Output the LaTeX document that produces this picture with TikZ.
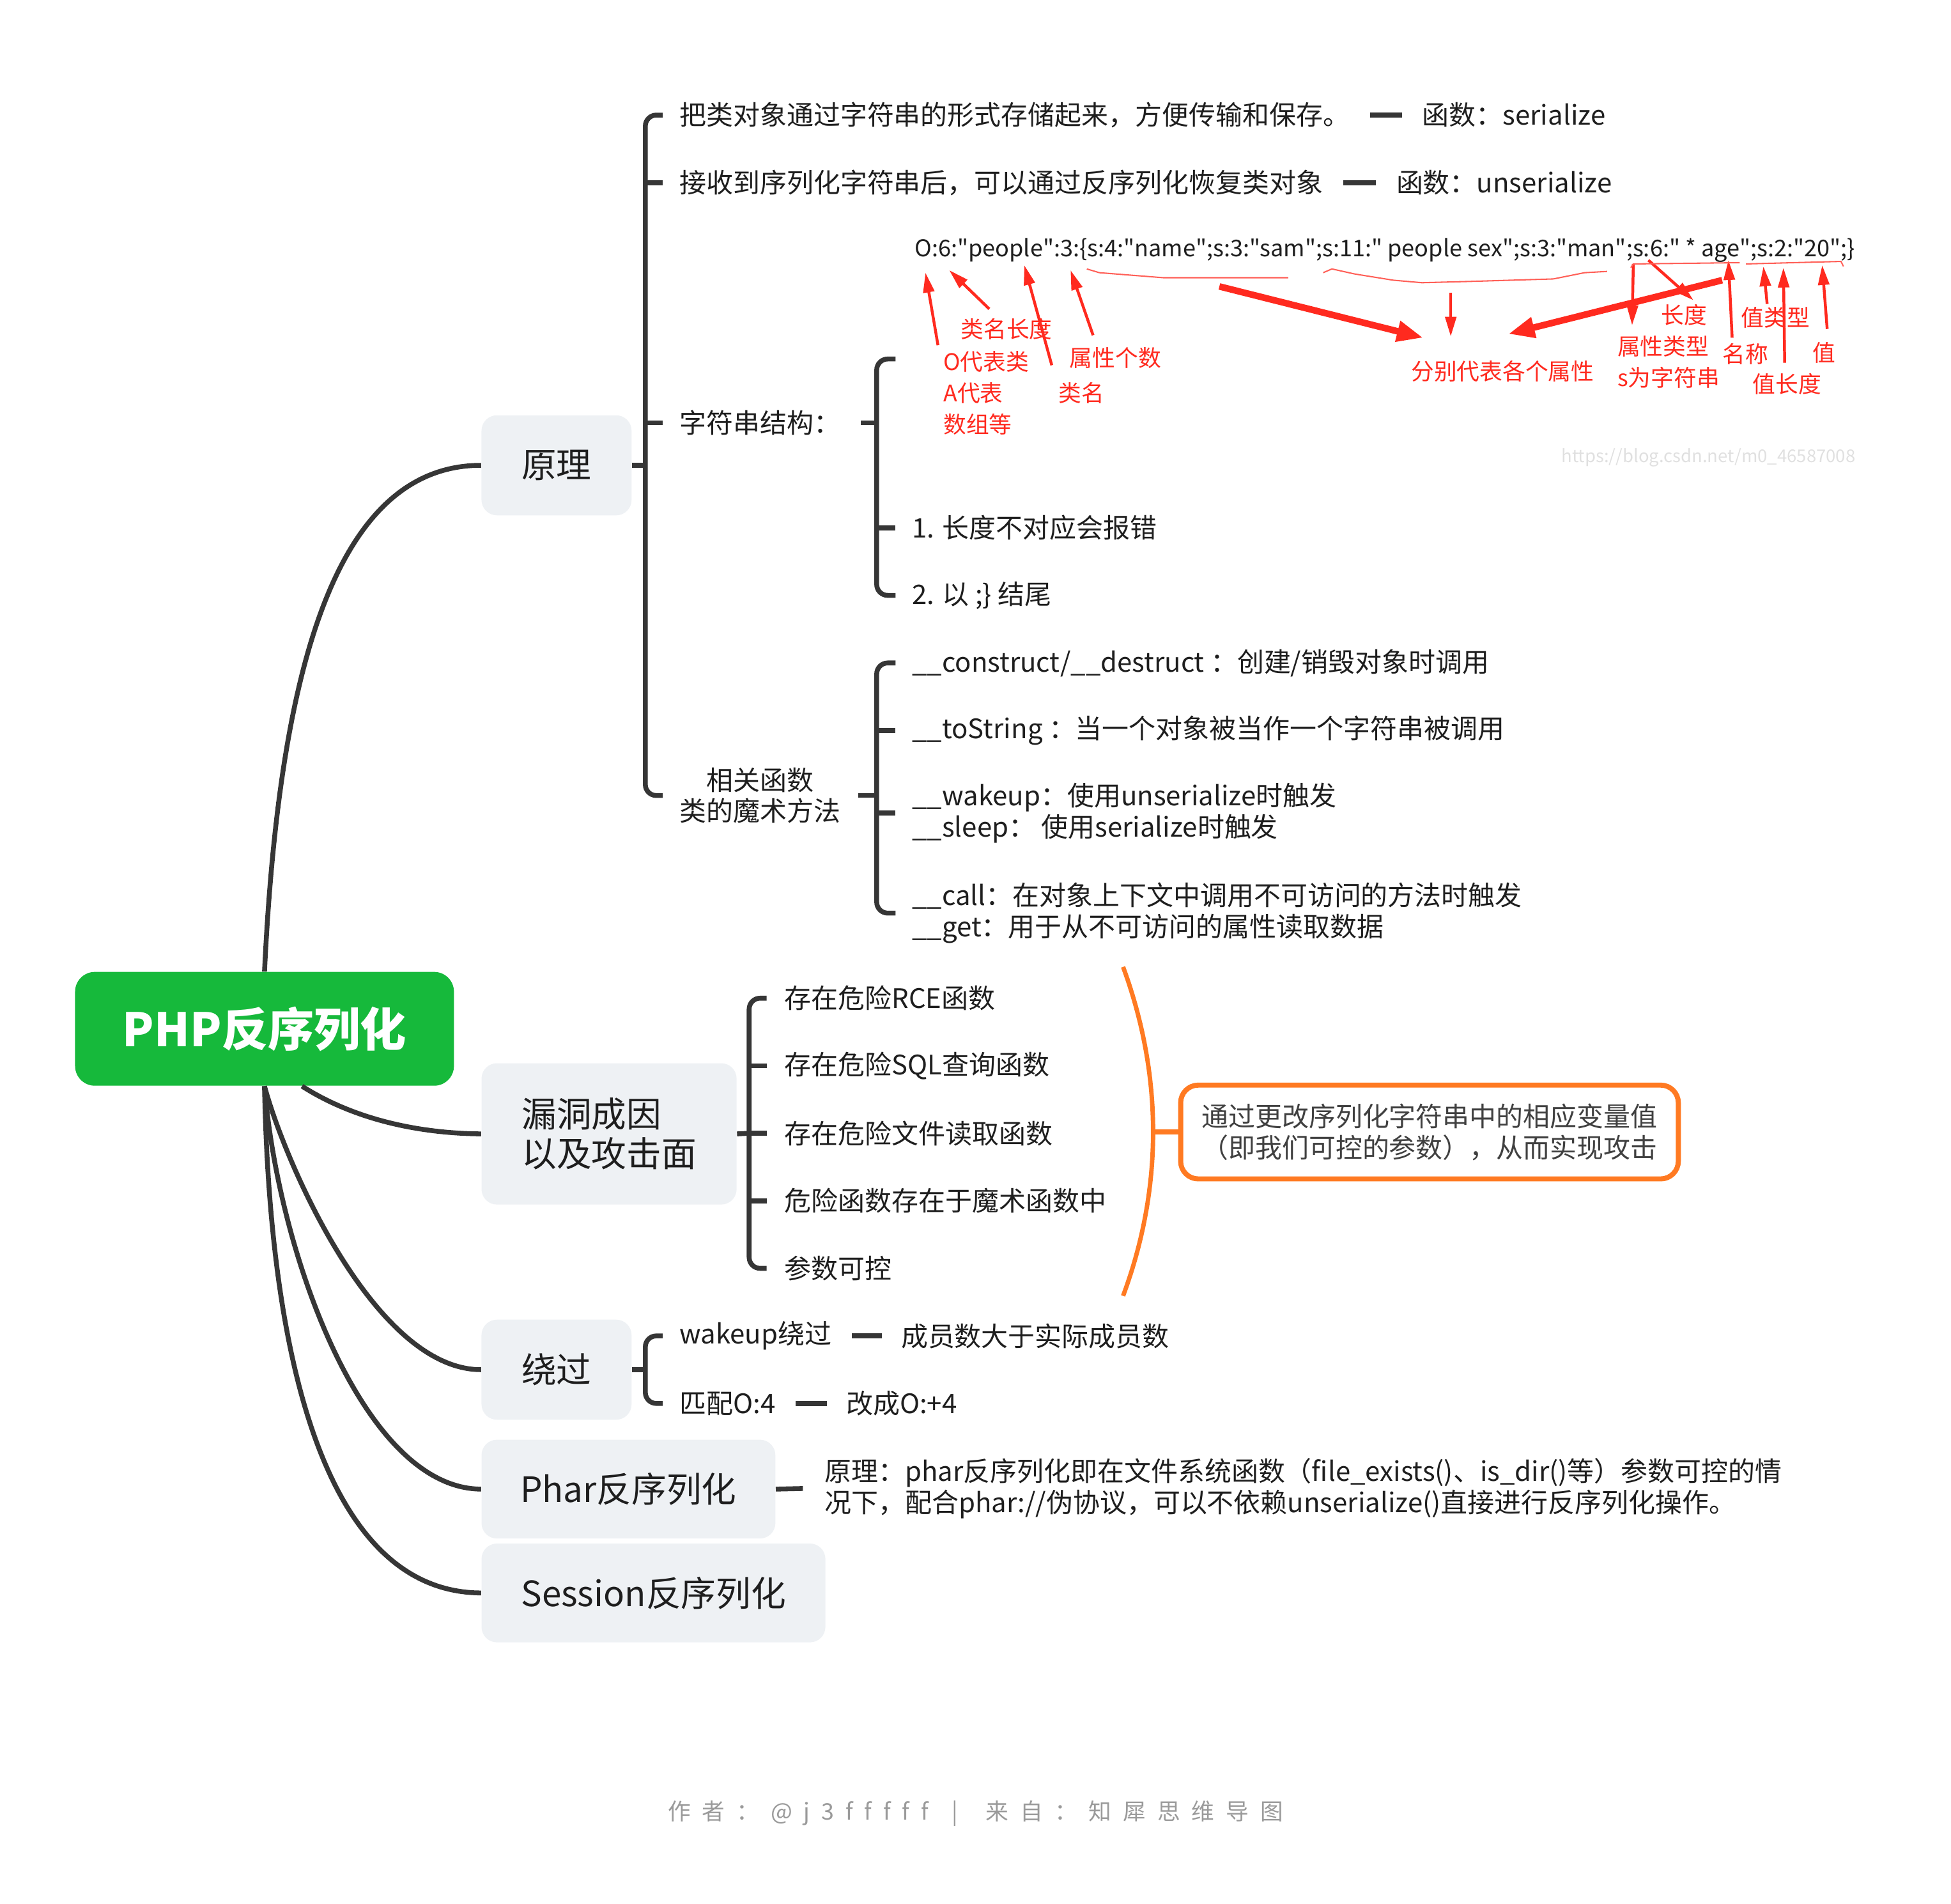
\documentclass[tikz,border=0pt]{standalone}
\usepackage{fontspec}
\setmainfont{Noto Sans CJK SC}
\newfontfamily\footfont[LetterSpace=50, Ligatures={TeXOff,NoCommon}]{Noto Sans CJK SC}
\newfontfamily\strfont[Ligatures={TeXOff,NoCommon}]{Noto Sans CJK SC}
\usetikzlibrary{positioning,calc,arrows.meta}

\definecolor{txt}{HTML}{1E1E1E}
\definecolor{linec}{HTML}{363636}
\definecolor{topicbg}{HTML}{EEF1F4}
\definecolor{rootgreen}{HTML}{16B93B}
\definecolor{sumorange}{HTML}{FF7A22}
\definecolor{annot}{HTML}{FF2A1F}
\definecolor{footgrey}{HTML}{9A9A9A}

\tikzset{
  line/.style={draw=linec, line width=2.2pt},
  brk/.style={line, rounded corners=5pt},
  topic/.style={fill=topicbg, rounded corners=7pt, text=txt, inner sep=0pt, font=\fontsize{15.9}{18.1}\selectfont},
  leaf/.style={anchor=west, inner sep=0pt, text=txt, align=left, font=\fontsize{12.2}{14.2}\selectfont},
  note/.style={anchor=west, inner sep=0pt, text=annot, font=\fontsize{10.4}{12}\selectfont},
  thinarrow/.style={draw=annot, line width=1.3pt, -{Triangle[length=9pt, width=5pt]}},
  bigarrow/.style={draw=annot, line width=3pt, -{Triangle[length=12pt, width=9pt]}},
  redline/.style={draw=annot!75, line width=0.6pt},
}

\begin{document}
\begin{tikzpicture}[x=0.02cm, y=-0.02cm]
    \useasboundingbox (0,0) rectangle (1560,1522);

    % Root and main topics
    \node[fill=rootgreen, rounded corners=9pt, minimum width=6.06cm, minimum height=1.82cm, text=white, font=\fontsize{21}{24}\selectfont\bfseries] (root) at (211.5,822.5) {PHP反序列化};
    \node[topic, minimum width=2.4cm, minimum height=1.6cm] (yl) at (445,372) {原理};
    \node[topic, minimum width=4.08cm, minimum height=2.26cm, align=left] (ld) at (487,906.5) {漏洞成因\\以及攻击面};
    \node[topic, minimum width=2.4cm, minimum height=1.6cm] (rg) at (445,1095) {绕过};
    \node[topic, minimum width=4.7cm, minimum height=1.58cm] (phar) at (502.5,1190.5) {Phar反序列化};
    \node[topic, minimum width=5.5cm, minimum height=1.58cm] (sess) at (522.5,1273.5) {Session反序列化};

    % Curved branches
    \draw[line] (root.north) .. controls (222,560) and (260,372) .. (yl.west);
    \draw[line] ([xshift=0.6cm]root.south) .. controls (280,893) and (330,906) .. (ld.west);
    \draw[line] (root.south) .. controls (228,930) and (300,1095) .. (rg.west);
    \draw[line] (root.south) .. controls (222,1000) and (290,1190) .. (phar.west);
    \draw[line] (root.south) .. controls (216,1100) and (265,1273) .. (sess.west);

    % 原理
    \node[leaf] (a1) at (543,92) {把类对象通过字符串的形式存储起来，方便传输和保存。};
    \node[leaf, right=1.15cm of a1] (f1) {函数：serialize};
    \node[leaf] (a2) at (543,146) {接收到序列化字符串后，可以通过反序列化恢复类对象};
    \node[leaf, right=1.16cm of a2] (f2) {函数：unserialize};
    \node[leaf] (a3) at (543,338) {字符串结构：};
    \node[leaf, align=center] (a4) at (543,636) {相关函数\\类的魔术方法};
    \draw[line] ([xshift=0.32cm]a1.east) -- ([xshift=-0.32cm]f1.west);
    \draw[line] ([xshift=0.32cm]a2.east) -- ([xshift=-0.32cm]f2.west);

    \coordinate (yl-b) at (516,372);
    \draw[line] (yl.east) -- (yl-b);
    \draw[brk] ($(a1.west)+(-13,0)$) -| (yl-b) |- ($(a4.west)+(-13,0)$);
    \draw[line] (yl-b |- a2.west) -- ($(a2.west)+(-13,0)$);
    \draw[line] (yl-b |- a3.west) -- ($(a3.west)+(-13,0)$);

    % 字符串结构
    \coordinate (s-b) at (701,338);
    \coordinate (strimg) at (716,287);
    \node[leaf] (b2) at (729,422) {1. 长度不对应会报错};
    \node[leaf] (b3) at (729,476) {2. 以 ;\} 结尾};
    \draw[line] ($(a3.east)+(16,0)$) -- (s-b);
    \draw[brk] (strimg) -| (s-b) |- ($(b3.west)+(-13,0)$);
    \draw[line] (s-b |- b2.west) -- ($(b2.west)+(-13,0)$);

    % Serialized string with red notes
    \node[anchor=west, inner sep=0pt, text=txt, font=\strfont\fontsize{10.8}{12}\selectfont] (str) at (731,200)
      {\resizebox{15.04cm}{!}{O:6:"people":3:\{s:4:"name";s:3:"sam";s:11:" people sex";s:3:"man";s:6:" * age";s:2:"20";\}}};
    \node[note] (n-clen) at (768,263) {类名长度};
    \node[note] (n-obj) at (754,289) {O代表类};
    \node[note] (n-arr) at (754,314) {A代表};
    \node[note] (n-arr2) at (754,339) {数组等};
    \node[note] (n-pcnt) at (855,286) {属性个数};
    \node[note] (n-cname) at (846,314) {类名};
    \node[note] (n-attr) at (1128,297) {分别代表各个属性};
    \node[note] (n-len) at (1328,252) {长度};
    \node[note] (n-ptype) at (1293,277) {属性类型};
    \node[note] (n-str) at (1293,302) {s为字符串};
    \node[note] (n-vtype) at (1392,254) {值类型};
    \node[note] (n-name) at (1377,283) {名称};
    \node[note] (n-val) at (1449,282) {值};
    \node[note] (n-vlen) at (1401,307) {值长度};
    \node[inner sep=0pt, text=black!12, font=\fontsize{8}{10}\selectfont] (wm) at (1366,366) {https://blog.csdn.net/m0\_46587008};

    \draw[thinarrow] (750,276) -- (740,218);
    \draw[thinarrow] (791,247) -- (759,216);
    \draw[thinarrow] (841,292) -- (819,212);
    \draw[thinarrow] (874,268) -- (856,216);
    \draw[bigarrow] (975,229) -- (1138,270);
    \draw[thinarrow] (1160,234) -- (1160,269);
    \draw[bigarrow] (1377,224) -- (1206,267);
    \draw[thinarrow] (1306,211) -- (1305,260);
    \draw[thinarrow] (1318,208) -- (1354,240);
    \draw[thinarrow] (1385,270) -- (1382,208);
    \draw[thinarrow] (1413,243) -- (1410,213);
    \draw[thinarrow] (1427,290) -- (1426,214);
    \draw[thinarrow] (1461,263) -- (1457,212);

    \draw[redline] (869,215) -- (879,218) -- (930,222) -- (1030,222);
    \draw[redline] (1058,218) -- (1065,215) -- (1083,219) -- (1114,224) -- (1137,226) -- (1175,225) -- (1242,223) -- (1267,218) -- (1285,217);
    \draw[redline] (1304,214) -- (1306,211) -- (1391,210);
    \draw[redline] (1396,211) -- (1472,209) -- (1474,213);

    % 类的魔术方法
    \coordinate (m-b) at (701,636);
    \node[leaf] (c1) at (729,530) {\_\_construct/\_\_destruct ：创建/销毁对象时调用};
    \node[leaf] (c2) at (729,584) {\_\_toString ：当一个对象被当作一个字符串被调用};
    \node[leaf] (c3) at (729,650) {\_\_wakeup：使用unserialize时触发\\\_\_sleep： 使用serialize时触发};
    \node[leaf] (c4) at (729,730) {\_\_call：在对象上下文中调用不可访问的方法时触发\\\_\_get：用于从不可访问的属性读取数据};
    \draw[line] ($(a4.east)+(14,0)$) -- (m-b);
    \draw[brk] ($(c1.west)+(-13,0)$) -| (m-b) |- ($(c4.west)+(-13,0)$);
    \draw[line] (m-b |- c2.west) -- ($(c2.west)+(-13,0)$);
    \draw[line] (m-b |- c3.west) -- ($(c3.west)+(-13,0)$);

    % 漏洞成因以及攻击面
    \coordinate (l-b) at (599,906);
    \node[leaf] (d1) at (627,798) {存在危险RCE函数};
    \node[leaf] (d2) at (627,852) {存在危险SQL查询函数};
    \node[leaf] (d3) at (627,906) {存在危险文件读取函数};
    \node[leaf] (d4) at (627,960) {危险函数存在于魔术函数中};
    \node[leaf] (d5) at (627,1014) {参数可控};
    \draw[line] (ld.east) -- (l-b);
    \draw[brk] ($(d1.west)+(-14,0)$) -| (l-b) |- ($(d5.west)+(-14,0)$);
    \draw[line] (l-b |- d2.west) -- ($(d2.west)+(-14,0)$);
    \draw[line] (l-b |- d3.west) -- ($(d3.west)+(-14,0)$);
    \draw[line] (l-b |- d4.west) -- ($(d4.west)+(-14,0)$);

    % Summary
    \coordinate (o-top) at (898,773);
    \coordinate (o-bot) at (898,1036);
    \coordinate (o-tip) at (922,905);
    \node[draw=sumorange, line width=2.3pt, fill=white, rounded corners=8pt, minimum width=7.96cm, minimum height=1.5cm,
          text=txt!85, align=center, font=\fontsize{12.2}{14.2}\selectfont] (sum) at (1143,905)
      {通过更改序列化字符串中的相应变量值\\（即我们可控的参数），从而实现攻击};
    \draw[draw=sumorange, line width=2pt] (o-top) .. controls (930,860) and (930,950) .. (o-bot);
    \draw[draw=sumorange, line width=2.3pt] (o-tip) -- (sum.west);

    % 绕过
    \coordinate (r-b) at (516,1095);
    \node[leaf] (e1) at (543,1068) {wakeup绕过};
    \node[leaf, right=1.1cm of e1] (g1) {成员数大于实际成员数};
    \node[leaf] (e2) at (543,1122) {匹配O:4};
    \node[leaf, right=1.12cm of e2] (g2) {改成O:+4};
    \draw[line] (rg.east) -- (r-b);
    \draw[brk] ($(e1.west)+(-13,0)$) -| (r-b) |- ($(e2.west)+(-13,0)$);
    \draw[line] ([xshift=0.32cm]e1.east) -- ([xshift=-0.3cm]g1.west);
    \draw[line] ([xshift=0.32cm]e2.east) -- ([xshift=-0.3cm]g2.west);

    % Phar
    \node[leaf] (ph1) at (659,1190) {原理：phar反序列化即在文件系统函数（file\_exists()、is\_dir()等）参数可控的情\\况下，配合phar://伪协议，可以不依赖unserialize()直接进行反序列化操作。};
    \draw[line] (phar.east) -- ($(ph1.west)+(-17,0)$);

    % Footer
    \node[text=footgrey, font=\footfont\fontsize{10.4}{12}\selectfont] (foot) at (780,1450) {作者：@j3fffff \hspace{0.3em}| \hspace{0.5em}来自：知犀思维导图};
\end{tikzpicture}
\end{document}
